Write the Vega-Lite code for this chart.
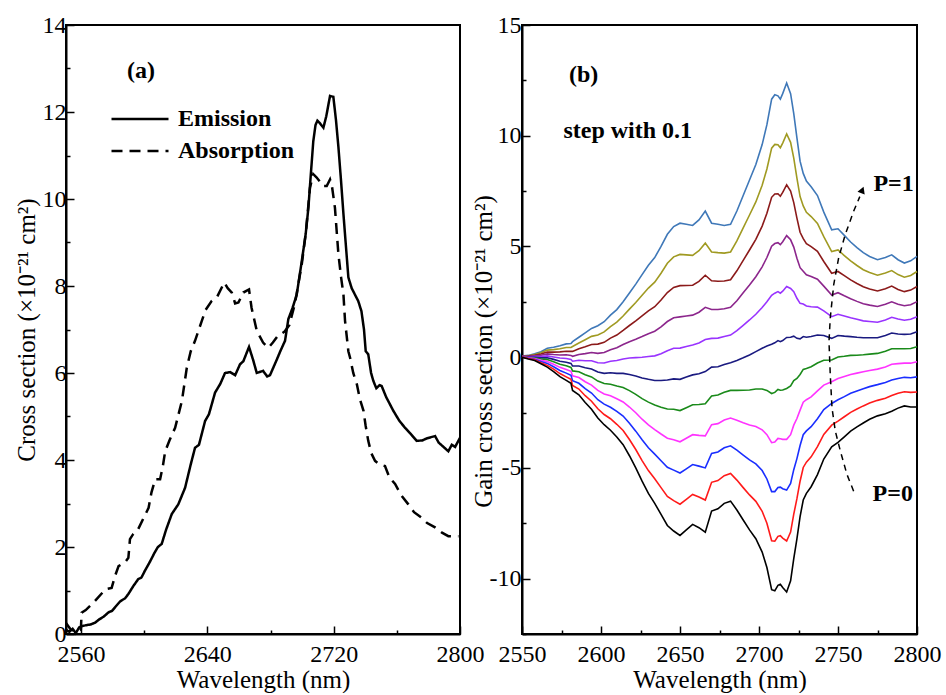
{
"$schema": "https://vega.github.io/schema/vega-lite/v6.json",
"background": "white",
"padding": {"left": 13, "top": 12, "right": 0, "bottom": 0},
"bounds": "flush",
"spacing": 62,
"config": {
  "font": "Liberation Serif",
  "view": {"stroke": "black", "strokeWidth": 2},
  "axis": {"grid": false, "domainColor": "black", "domainWidth": 2, "tickColor": "black", "tickWidth": 1.5,
    "labelFont": "Liberation Serif", "labelFontSize": 24, "labelColor": "black", "labelFlush": false, "labelOverlap": false,
    "titleFont": "Liberation Serif", "titleFontSize": 25, "titleFontWeight": "normal", "titleColor": "black"}
},
"hconcat": [
{
  "width": 394, "height": 609,
  "encoding": {
    "x": {"field": "w", "type": "quantitative", "scale": {"domain": [2550.5, 2800], "nice": false, "zero": false},
      "axis": {"title": "Wavelength (nm)", "values": [2560, 2600, 2640, 2680, 2720, 2760, 2800],
        "labelExpr": "(datum.value - 2560) % 80 === 0 ? datum.value + '' : ''",
        "tickSize": {"condition": {"test": "(datum.value - 2560) % 80 === 0", "value": -8}, "value": -4},
        "labelFont": "Liberation Serif", "titleFont": "Liberation Serif", "labelFontSize": 24, "titleFontSize": 25,
        "labelPadding": 16, "titlePadding": -3}},
    "y": {"field": "v", "type": "quantitative", "scale": {"domain": [0, 14], "nice": false},
      "axis": {"title": "Cross section (×10⁻²¹ cm²)", "values": [0,1,2,3,4,5,6,7,8,9,10,11,12,13,14],
        "labelExpr": "datum.value % 2 === 0 ? datum.value + '' : ''",
        "tickSize": {"condition": {"test": "datum.value % 2 === 0", "value": -8}, "value": -4},
        "labelFont": "Liberation Serif", "titleFont": "Liberation Serif", "labelFontSize": 24, "titleFontSize": 25,
        "labelPadding": 8, "titlePadding": 3}}
  },
  "layer": [
    {
      "data": {"values": [
        {"w":2550.5,"v":0.1,"s":"Emission"},{"w":2552.6,"v":0.05,"s":"Emission"},{"w":2554.7,"v":0.12,"s":"Emission"},{"w":2556.7,"v":0.02,"s":"Emission"},{"w":2558.8,"v":0.15,"s":"Emission"},{"w":2560.4,"v":0.18,"s":"Emission"},{"w":2563.0,"v":0.2,"s":"Emission"},{"w":2566.1,"v":0.22,"s":"Emission"},{"w":2568.9,"v":0.26,"s":"Emission"},{"w":2571.3,"v":0.33,"s":"Emission"},{"w":2574.4,"v":0.4,"s":"Emission"},{"w":2577.5,"v":0.5,"s":"Emission"},{"w":2579.6,"v":0.53,"s":"Emission"},{"w":2581.7,"v":0.62,"s":"Emission"},{"w":2584.8,"v":0.75,"s":"Emission"},{"w":2587.9,"v":0.82,"s":"Emission"},{"w":2590.0,"v":0.92,"s":"Emission"},{"w":2593.1,"v":1.1,"s":"Emission"},{"w":2596.2,"v":1.26,"s":"Emission"},{"w":2598.3,"v":1.3,"s":"Emission"},{"w":2600.4,"v":1.45,"s":"Emission"},{"w":2603.5,"v":1.65,"s":"Emission"},{"w":2606.6,"v":1.87,"s":"Emission"},{"w":2608.7,"v":2.0,"s":"Emission"},{"w":2611.1,"v":2.07,"s":"Emission"},{"w":2613.9,"v":2.4,"s":"Emission"},{"w":2617.5,"v":2.76,"s":"Emission"},{"w":2621.6,"v":2.98,"s":"Emission"},{"w":2625.9,"v":3.36,"s":"Emission"},{"w":2629.5,"v":3.9,"s":"Emission"},{"w":2632.2,"v":4.28,"s":"Emission"},{"w":2634.7,"v":4.35,"s":"Emission"},{"w":2638.6,"v":4.9,"s":"Emission"},{"w":2641.0,"v":5.05,"s":"Emission"},{"w":2644.9,"v":5.55,"s":"Emission"},{"w":2648.2,"v":5.75,"s":"Emission"},{"w":2651.2,"v":6.0,"s":"Emission"},{"w":2654.5,"v":6.02,"s":"Emission"},{"w":2657.6,"v":5.95,"s":"Emission"},{"w":2660.7,"v":6.2,"s":"Emission"},{"w":2662.8,"v":6.27,"s":"Emission"},{"w":2666.4,"v":6.6,"s":"Emission"},{"w":2669.0,"v":6.3,"s":"Emission"},{"w":2671.3,"v":6.0,"s":"Emission"},{"w":2675.3,"v":6.05,"s":"Emission"},{"w":2677.9,"v":5.92,"s":"Emission"},{"w":2679.7,"v":5.95,"s":"Emission"},{"w":2683.9,"v":6.3,"s":"Emission"},{"w":2686.2,"v":6.5,"s":"Emission"},{"w":2689.2,"v":6.74,"s":"Emission"},{"w":2691.3,"v":7.24,"s":"Emission"},{"w":2694.0,"v":7.5,"s":"Emission"},{"w":2696.6,"v":7.8,"s":"Emission"},{"w":2699.8,"v":8.57,"s":"Emission"},{"w":2702.3,"v":9.2,"s":"Emission"},{"w":2704.0,"v":9.8,"s":"Emission"},{"w":2705.4,"v":10.5,"s":"Emission"},{"w":2707.1,"v":11.33,"s":"Emission"},{"w":2708.5,"v":11.7,"s":"Emission"},{"w":2709.7,"v":11.8,"s":"Emission"},{"w":2711.1,"v":11.75,"s":"Emission"},{"w":2713.5,"v":11.64,"s":"Emission"},{"w":2715.3,"v":11.9,"s":"Emission"},{"w":2717.7,"v":12.37,"s":"Emission"},{"w":2719.8,"v":12.35,"s":"Emission"},{"w":2721.5,"v":11.8,"s":"Emission"},{"w":2723.0,"v":11.2,"s":"Emission"},{"w":2724.7,"v":10.4,"s":"Emission"},{"w":2726.2,"v":9.65,"s":"Emission"},{"w":2727.8,"v":8.9,"s":"Emission"},{"w":2729.3,"v":8.2,"s":"Emission"},{"w":2731.4,"v":7.95,"s":"Emission"},{"w":2733.5,"v":7.8,"s":"Emission"},{"w":2735.6,"v":7.65,"s":"Emission"},{"w":2737.6,"v":7.42,"s":"Emission"},{"w":2739.2,"v":7.0,"s":"Emission"},{"w":2740.3,"v":6.5,"s":"Emission"},{"w":2741.9,"v":6.43,"s":"Emission"},{"w":2743.7,"v":6.0,"s":"Emission"},{"w":2745.1,"v":5.82,"s":"Emission"},{"w":2747.0,"v":5.65,"s":"Emission"},{"w":2749.1,"v":5.72,"s":"Emission"},{"w":2750.4,"v":5.7,"s":"Emission"},{"w":2753.2,"v":5.45,"s":"Emission"},{"w":2757.8,"v":5.13,"s":"Emission"},{"w":2761.6,"v":4.9,"s":"Emission"},{"w":2765.2,"v":4.74,"s":"Emission"},{"w":2768.8,"v":4.6,"s":"Emission"},{"w":2772.6,"v":4.44,"s":"Emission"},{"w":2776.1,"v":4.45,"s":"Emission"},{"w":2779.2,"v":4.5,"s":"Emission"},{"w":2784.2,"v":4.55,"s":"Emission"},{"w":2786.5,"v":4.4,"s":"Emission"},{"w":2789.6,"v":4.3,"s":"Emission"},{"w":2792.6,"v":4.2,"s":"Emission"},{"w":2794.8,"v":4.35,"s":"Emission"},{"w":2796.9,"v":4.3,"s":"Emission"},{"w":2800,"v":4.51,"s":"Emission"},
        {"w":2550.5,"v":0.25,"s":"Absorption"},{"w":2553.6,"v":0.1,"s":"Absorption"},{"w":2557.8,"v":0.05,"s":"Absorption"},{"w":2559.9,"v":0.1,"s":"Absorption"},{"w":2560.4,"v":0.49,"s":"Absorption"},{"w":2563.0,"v":0.55,"s":"Absorption"},{"w":2568.9,"v":0.76,"s":"Absorption"},{"w":2575.5,"v":1.03,"s":"Absorption"},{"w":2579.4,"v":1.06,"s":"Absorption"},{"w":2581.7,"v":1.35,"s":"Absorption"},{"w":2583.8,"v":1.56,"s":"Absorption"},{"w":2587.9,"v":1.65,"s":"Absorption"},{"w":2590.0,"v":1.75,"s":"Absorption"},{"w":2591.0,"v":2.18,"s":"Absorption"},{"w":2593.1,"v":2.3,"s":"Absorption"},{"w":2596.2,"v":2.41,"s":"Absorption"},{"w":2599.4,"v":2.65,"s":"Absorption"},{"w":2602.8,"v":2.9,"s":"Absorption"},{"w":2604.6,"v":3.25,"s":"Absorption"},{"w":2607.0,"v":3.56,"s":"Absorption"},{"w":2610.1,"v":3.56,"s":"Absorption"},{"w":2611.8,"v":3.85,"s":"Absorption"},{"w":2613.3,"v":4.2,"s":"Absorption"},{"w":2616.0,"v":4.45,"s":"Absorption"},{"w":2619.6,"v":4.74,"s":"Absorption"},{"w":2623.9,"v":5.36,"s":"Absorption"},{"w":2627.0,"v":6.12,"s":"Absorption"},{"w":2629.5,"v":6.5,"s":"Absorption"},{"w":2632.2,"v":6.74,"s":"Absorption"},{"w":2636.5,"v":7.2,"s":"Absorption"},{"w":2638.9,"v":7.45,"s":"Absorption"},{"w":2642.8,"v":7.66,"s":"Absorption"},{"w":2646.2,"v":7.75,"s":"Absorption"},{"w":2650.7,"v":8.08,"s":"Absorption"},{"w":2652.9,"v":7.95,"s":"Absorption"},{"w":2655.5,"v":7.85,"s":"Absorption"},{"w":2657.6,"v":7.6,"s":"Absorption"},{"w":2659.7,"v":7.62,"s":"Absorption"},{"w":2662.8,"v":7.85,"s":"Absorption"},{"w":2666.4,"v":7.92,"s":"Absorption"},{"w":2668.0,"v":7.5,"s":"Absorption"},{"w":2671.3,"v":6.97,"s":"Absorption"},{"w":2675.3,"v":6.7,"s":"Absorption"},{"w":2678.6,"v":6.58,"s":"Absorption"},{"w":2681.5,"v":6.7,"s":"Absorption"},{"w":2684.6,"v":6.85,"s":"Absorption"},{"w":2688.8,"v":6.95,"s":"Absorption"},{"w":2691.9,"v":7.1,"s":"Absorption"},{"w":2695.5,"v":7.6,"s":"Absorption"},{"w":2699.8,"v":8.5,"s":"Absorption"},{"w":2702.3,"v":9.2,"s":"Absorption"},{"w":2705.0,"v":10.26,"s":"Absorption"},{"w":2707.1,"v":10.57,"s":"Absorption"},{"w":2709.1,"v":10.5,"s":"Absorption"},{"w":2711.3,"v":10.4,"s":"Absorption"},{"w":2713.2,"v":10.3,"s":"Absorption"},{"w":2715.6,"v":10.3,"s":"Absorption"},{"w":2717.7,"v":10.45,"s":"Absorption"},{"w":2718.9,"v":10.3,"s":"Absorption"},{"w":2720.8,"v":9.8,"s":"Absorption"},{"w":2723.0,"v":8.73,"s":"Absorption"},{"w":2724.7,"v":8.2,"s":"Absorption"},{"w":2726.2,"v":7.8,"s":"Absorption"},{"w":2727.2,"v":7.2,"s":"Absorption"},{"w":2729.3,"v":6.5,"s":"Absorption"},{"w":2730.4,"v":6.35,"s":"Absorption"},{"w":2732.4,"v":6.0,"s":"Absorption"},{"w":2734.7,"v":5.74,"s":"Absorption"},{"w":2736.6,"v":5.4,"s":"Absorption"},{"w":2738.9,"v":5.13,"s":"Absorption"},{"w":2740.2,"v":4.8,"s":"Absorption"},{"w":2741.9,"v":4.44,"s":"Absorption"},{"w":2743.9,"v":4.15,"s":"Absorption"},{"w":2746.2,"v":3.98,"s":"Absorption"},{"w":2749.1,"v":3.9,"s":"Absorption"},{"w":2752.5,"v":3.86,"s":"Absorption"},{"w":2755.3,"v":3.6,"s":"Absorption"},{"w":2758.9,"v":3.45,"s":"Absorption"},{"w":2762.6,"v":3.2,"s":"Absorption"},{"w":2767.3,"v":2.98,"s":"Absorption"},{"w":2770.9,"v":2.8,"s":"Absorption"},{"w":2775.8,"v":2.67,"s":"Absorption"},{"w":2779.2,"v":2.55,"s":"Absorption"},{"w":2784.2,"v":2.45,"s":"Absorption"},{"w":2788.6,"v":2.33,"s":"Absorption"},{"w":2792.6,"v":2.25,"s":"Absorption"},{"w":2799.0,"v":2.25,"s":"Absorption"}
      ]},
      "mark": {"type": "line", "strokeWidth": 2.5, "color": "black"},
      "encoding": {
        "strokeDash": {"field": "s", "type": "nominal",
          "scale": {"domain": ["Emission", "Absorption"], "range": [[1, 0], [11, 7]]},
          "legend": {"orient": "none", "legendX": 44, "legendY": 82, "title": null, "padding": 0,
            "symbolType": "stroke", "symbolSize": 3249, "symbolStrokeWidth": 2.5, "symbolStrokeColor": "black",
            "clipHeight": 24, "rowPadding": 8, "labelOffset": 8,
            "labelFont": "Liberation Serif", "labelFontSize": 24, "labelFontWeight": "bold", "labelColor": "black"}}
      }
    },
    {
      "data": {"values": [{"w": 2589.2, "v": 12.94, "t": "(a)"}]},
      "mark": {"type": "text", "align": "left", "baseline": "middle", "font": "Liberation Serif", "fontSize": 24, "fontWeight": "bold", "color": "black"},
      "encoding": {"text": {"field": "t"}}
    }
  ]
},
{
  "width": 395, "height": 609,
  "encoding": {
    "x": {"field": "w", "type": "quantitative", "scale": {"domain": [2550, 2800], "nice": false, "zero": false},
      "axis": {"title": "Wavelength (nm)", "values": [2550, 2575, 2600, 2625, 2650, 2675, 2700, 2725, 2750, 2775, 2800],
        "labelExpr": "datum.value % 50 === 0 ? datum.value + '' : ''",
        "tickSize": {"condition": {"test": "datum.value % 50 === 0", "value": -8}, "value": -4},
        "labelFont": "Liberation Serif", "titleFont": "Liberation Serif", "labelFontSize": 24, "titleFontSize": 25,
        "labelPadding": 16, "titlePadding": -3}},
    "y": {"field": "v", "type": "quantitative", "scale": {"domain": [-12.5, 15], "nice": false, "zero": false},
      "axis": {"title": "Gain cross section (×10⁻²¹ cm²)", "values": [-12.5, -10, -7.5, -5, -2.5, 0, 2.5, 5, 7.5, 10, 12.5, 15],
        "labelExpr": "datum.value % 5 === 0 ? datum.value + '' : ''",
        "tickSize": {"condition": {"test": "datum.value % 5 === 0", "value": -8}, "value": -4},
        "labelFont": "Liberation Serif", "titleFont": "Liberation Serif", "labelFontSize": 24, "titleFontSize": 25,
        "labelPadding": 9, "titlePadding": -7, "titleY": 326}}
  },
  "layer": [
    {
      "data": {"values": [
        {"w":2550,"p0":0,"p1":0.01,"p2":0.01,"p3":0.02,"p4":0.02,"p5":0.03,"p6":0.03,"p7":0.04,"p8":0.04,"p9":0.05,"p10":0.05},
        {"w":2554,"p0":-0.08,"p1":-0.06,"p2":-0.05,"p3":-0.03,"p4":-0.02,"p5":0,"p6":0.02,"p7":0.03,"p8":0.05,"p9":0.06,"p10":0.08},
        {"w":2558,"p0":-0.15,"p1":-0.12,"p2":-0.09,"p3":-0.06,"p4":-0.03,"p5":0,"p6":0.03,"p7":0.06,"p8":0.09,"p9":0.12,"p10":0.15},
        {"w":2562,"p0":-0.3,"p1":-0.25,"p2":-0.19,"p3":-0.14,"p4":-0.08,"p5":-0.03,"p6":0.03,"p7":0.09,"p8":0.14,"p9":0.2,"p10":0.25},
        {"w":2566,"p0":-0.45,"p1":-0.37,"p2":-0.28,"p3":-0.2,"p4":-0.11,"p5":-0.03,"p6":0.06,"p7":0.15,"p8":0.23,"p9":0.32,"p10":0.4},
        {"w":2570,"p0":-0.65,"p1":-0.54,"p2":-0.43,"p3":-0.32,"p4":-0.21,"p5":-0.1,"p6":0.01,"p7":0.12,"p8":0.23,"p9":0.34,"p10":0.45},
        {"w":2574,"p0":-0.88,"p1":-0.74,"p2":-0.6,"p3":-0.46,"p4":-0.32,"p5":-0.18,"p6":-0.04,"p7":0.1,"p8":0.24,"p9":0.38,"p10":0.52},
        {"w":2578,"p0":-1.05,"p1":-0.89,"p2":-0.72,"p3":-0.56,"p4":-0.39,"p5":-0.23,"p6":-0.06,"p7":0.11,"p8":0.27,"p9":0.44,"p10":0.6},
        {"w":2581,"p0":-1.18,"p1":-1.0,"p2":-0.82,"p3":-0.64,"p4":-0.46,"p5":-0.28,"p6":-0.1,"p7":0.08,"p8":0.26,"p9":0.44,"p10":0.62},
        {"w":2582,"p0":-1.5,"p1":-1.28,"p2":-1.06,"p3":-0.84,"p4":-0.62,"p5":-0.4,"p6":-0.18,"p7":0.04,"p8":0.26,"p9":0.48,"p10":0.7},
        {"w":2586,"p0":-1.7,"p1":-1.44,"p2":-1.18,"p3":-0.92,"p4":-0.66,"p5":-0.4,"p6":-0.14,"p7":0.12,"p8":0.38,"p9":0.64,"p10":0.9},
        {"w":2590,"p0":-2.05,"p1":-1.74,"p2":-1.42,"p3":-1.11,"p4":-0.79,"p5":-0.48,"p6":-0.16,"p7":0.16,"p8":0.47,"p9":0.79,"p10":1.1},
        {"w":2594,"p0":-2.35,"p1":-1.99,"p2":-1.62,"p3":-1.26,"p4":-0.89,"p5":-0.53,"p6":-0.16,"p7":0.21,"p8":0.57,"p9":0.94,"p10":1.3},
        {"w":2598,"p0":-2.75,"p1":-2.33,"p2":-1.92,"p3":-1.5,"p4":-1.08,"p5":-0.67,"p6":-0.25,"p7":0.17,"p8":0.59,"p9":1.0,"p10":1.42},
        {"w":2602,"p0":-3.05,"p1":-2.59,"p2":-2.12,"p3":-1.66,"p4":-1.19,"p5":-0.73,"p6":-0.26,"p7":0.21,"p8":0.67,"p9":1.14,"p10":1.6},
        {"w":2606,"p0":-3.3,"p1":-2.78,"p2":-2.26,"p3":-1.74,"p4":-1.22,"p5":-0.7,"p6":-0.18,"p7":0.34,"p8":0.86,"p9":1.38,"p10":1.9},
        {"w":2610,"p0":-3.6,"p1":-3.03,"p2":-2.45,"p3":-1.88,"p4":-1.3,"p5":-0.73,"p6":-0.15,"p7":0.43,"p8":1.0,"p9":1.58,"p10":2.15},
        {"w":2614,"p0":-3.95,"p1":-3.31,"p2":-2.66,"p3":-2.02,"p4":-1.37,"p5":-0.73,"p6":-0.08,"p7":0.57,"p8":1.21,"p9":1.86,"p10":2.5},
        {"w":2618,"p0":-4.45,"p1":-3.72,"p2":-2.98,"p3":-2.25,"p4":-1.51,"p5":-0.78,"p6":-0.04,"p7":0.7,"p8":1.43,"p9":2.17,"p10":2.9},
        {"w":2622,"p0":-5.0,"p1":-4.17,"p2":-3.34,"p3":-2.51,"p4":-1.68,"p5":-0.85,"p6":-0.02,"p7":0.81,"p8":1.64,"p9":2.47,"p10":3.3},
        {"w":2626,"p0":-5.6,"p1":-4.67,"p2":-3.73,"p3":-2.8,"p4":-1.87,"p5":-0.94,"p6":0,"p7":0.93,"p8":1.86,"p9":2.8,"p10":3.73},
        {"w":2630,"p0":-6.15,"p1":-5.12,"p2":-4.09,"p3":-3.06,"p4":-2.03,"p5":-1.0,"p6":0.03,"p7":1.06,"p8":2.09,"p9":3.12,"p10":4.15},
        {"w":2634,"p0":-6.6,"p1":-5.49,"p2":-4.38,"p3":-3.27,"p4":-2.16,"p5":-1.05,"p6":0.06,"p7":1.17,"p8":2.28,"p9":3.39,"p10":4.5},
        {"w":2638,"p0":-7.1,"p1":-5.89,"p2":-4.68,"p3":-3.47,"p4":-2.26,"p5":-1.05,"p6":0.16,"p7":1.37,"p8":2.58,"p9":3.79,"p10":5.0},
        {"w":2642,"p0":-7.6,"p1":-6.29,"p2":-4.97,"p3":-3.66,"p4":-2.34,"p5":-1.03,"p6":0.29,"p7":1.61,"p8":2.92,"p9":4.24,"p10":5.55},
        {"w":2646,"p0":-7.85,"p1":-6.48,"p2":-5.1,"p3":-3.73,"p4":-2.35,"p5":-0.98,"p6":0.4,"p7":1.78,"p8":3.15,"p9":4.53,"p10":5.9},
        {"w":2650,"p0":-8.05,"p1":-6.64,"p2":-5.23,"p3":-3.82,"p4":-2.41,"p5":-1.0,"p6":0.41,"p7":1.82,"p8":3.23,"p9":4.64,"p10":6.05},
        {"w":2654,"p0":-7.8,"p1":-6.42,"p2":-5.04,"p3":-3.66,"p4":-2.28,"p5":-0.9,"p6":0.48,"p7":1.86,"p8":3.24,"p9":4.62,"p10":6.0},
        {"w":2658,"p0":-7.55,"p1":-6.2,"p2":-4.85,"p3":-3.5,"p4":-2.15,"p5":-0.8,"p6":0.55,"p7":1.9,"p8":3.25,"p9":4.6,"p10":5.95},
        {"w":2662,"p0":-7.7,"p1":-6.31,"p2":-4.92,"p3":-3.53,"p4":-2.14,"p5":-0.75,"p6":0.64,"p7":2.03,"p8":3.42,"p9":4.81,"p10":6.2},
        {"w":2666,"p0":-7.9,"p1":-6.45,"p2":-5.0,"p3":-3.55,"p4":-2.1,"p5":-0.65,"p6":0.8,"p7":2.25,"p8":3.7,"p9":5.15,"p10":6.6},
        {"w":2670,"p0":-6.95,"p1":-5.65,"p2":-4.35,"p3":-3.05,"p4":-1.75,"p5":-0.45,"p6":0.85,"p7":2.15,"p8":3.45,"p9":4.75,"p10":6.05},
        {"w":2674,"p0":-6.85,"p1":-5.57,"p2":-4.28,"p3":-3.0,"p4":-1.71,"p5":-0.43,"p6":0.86,"p7":2.15,"p8":3.43,"p9":4.72,"p10":6.0},
        {"w":2678,"p0":-6.6,"p1":-5.35,"p2":-4.09,"p3":-2.84,"p4":-1.58,"p5":-0.33,"p6":0.93,"p7":2.19,"p8":3.44,"p9":4.7,"p10":5.95},
        {"w":2682,"p0":-6.5,"p1":-5.25,"p2":-4.0,"p3":-2.75,"p4":-1.5,"p5":-0.25,"p6":1.0,"p7":2.25,"p8":3.5,"p9":4.75,"p10":6.0},
        {"w":2686,"p0":-6.9,"p1":-5.55,"p2":-4.2,"p3":-2.85,"p4":-1.5,"p5":-0.15,"p6":1.2,"p7":2.55,"p8":3.9,"p9":5.25,"p10":6.6},
        {"w":2690,"p0":-7.35,"p1":-5.89,"p2":-4.42,"p3":-2.96,"p4":-1.49,"p5":-0.03,"p6":1.44,"p7":2.91,"p8":4.37,"p9":5.84,"p10":7.3},
        {"w":2694,"p0":-7.8,"p1":-6.22,"p2":-4.64,"p3":-3.06,"p4":-1.48,"p5":0.1,"p6":1.68,"p7":3.26,"p8":4.84,"p9":6.42,"p10":8.0},
        {"w":2698,"p0":-8.2,"p1":-6.51,"p2":-4.82,"p3":-3.13,"p4":-1.44,"p5":0.25,"p6":1.94,"p7":3.63,"p8":5.32,"p9":7.01,"p10":8.7},
        {"w":2702,"p0":-8.8,"p1":-6.96,"p2":-5.12,"p3":-3.28,"p4":-1.44,"p5":0.4,"p6":2.24,"p7":4.08,"p8":5.92,"p9":7.76,"p10":9.6},
        {"w":2705,"p0":-9.5,"p1":-7.5,"p2":-5.5,"p3":-3.5,"p4":-1.5,"p5":0.5,"p6":2.5,"p7":4.5,"p8":6.5,"p9":8.5,"p10":10.5},
        {"w":2708,"p0":-10.5,"p1":-8.29,"p2":-6.07,"p3":-3.86,"p4":-1.64,"p5":0.58,"p6":2.79,"p7":5.01,"p8":7.22,"p9":9.44,"p10":11.65},
        {"w":2710,"p0":-10.55,"p1":-8.31,"p2":-6.07,"p3":-3.83,"p4":-1.59,"p5":0.65,"p6":2.89,"p7":5.13,"p8":7.37,"p9":9.61,"p10":11.85},
        {"w":2712,"p0":-10.3,"p1":-8.09,"p2":-5.88,"p3":-3.67,"p4":-1.46,"p5":0.75,"p6":2.96,"p7":5.17,"p8":7.38,"p9":9.59,"p10":11.8},
        {"w":2713.5,"p0":-10.25,"p1":-8.06,"p2":-5.87,"p3":-3.68,"p4":-1.49,"p5":0.7,"p6":2.89,"p7":5.08,"p8":7.27,"p9":9.46,"p10":11.65},
        {"w":2715,"p0":-10.4,"p1":-8.17,"p2":-5.94,"p3":-3.71,"p4":-1.48,"p5":0.75,"p6":2.98,"p7":5.21,"p8":7.44,"p9":9.67,"p10":11.9},
        {"w":2717.5,"p0":-10.6,"p1":-8.3,"p2":-6.0,"p3":-3.71,"p4":-1.41,"p5":0.89,"p6":3.19,"p7":5.49,"p8":7.78,"p9":10.08,"p10":12.38},
        {"w":2720,"p0":-10.1,"p1":-7.9,"p2":-5.7,"p3":-3.5,"p4":-1.3,"p5":0.9,"p6":3.1,"p7":5.3,"p8":7.5,"p9":9.7,"p10":11.9},
        {"w":2722,"p0":-9.1,"p1":-7.09,"p2":-5.08,"p3":-3.07,"p4":-1.06,"p5":0.95,"p6":2.96,"p7":4.97,"p8":6.98,"p9":8.99,"p10":11.0},
        {"w":2724,"p0":-8.2,"p1":-6.39,"p2":-4.58,"p3":-2.77,"p4":-0.96,"p5":0.85,"p6":2.66,"p7":4.47,"p8":6.28,"p9":8.09,"p10":9.9},
        {"w":2726,"p0":-7.2,"p1":-5.6,"p2":-3.99,"p3":-2.39,"p4":-0.78,"p5":0.83,"p6":2.43,"p7":4.04,"p8":5.64,"p9":7.25,"p10":8.85},
        {"w":2728,"p0":-6.45,"p1":-4.98,"p2":-3.5,"p3":-2.03,"p4":-0.55,"p5":0.93,"p6":2.4,"p7":3.88,"p8":5.35,"p9":6.83,"p10":8.3},
        {"w":2730,"p0":-6.15,"p1":-4.74,"p2":-3.33,"p3":-1.92,"p4":-0.51,"p5":0.9,"p6":2.31,"p7":3.72,"p8":5.13,"p9":6.54,"p10":7.95},
        {"w":2733,"p0":-5.85,"p1":-4.5,"p2":-3.14,"p3":-1.79,"p4":-0.43,"p5":0.93,"p6":2.28,"p7":3.64,"p8":4.99,"p9":6.35,"p10":7.7},
        {"w":2737,"p0":-5.3,"p1":-4.04,"p2":-2.78,"p3":-1.52,"p4":-0.26,"p5":1.0,"p6":2.26,"p7":3.52,"p8":4.78,"p9":6.04,"p10":7.3},
        {"w":2741,"p0":-4.6,"p1":-3.49,"p2":-2.37,"p3":-1.26,"p4":-0.14,"p5":0.98,"p6":2.09,"p7":3.21,"p8":4.32,"p9":5.44,"p10":6.55},
        {"w":2746,"p0":-4.05,"p1":-3.07,"p2":-2.09,"p3":-1.11,"p4":-0.13,"p5":0.85,"p6":1.83,"p7":2.81,"p8":3.79,"p9":4.77,"p10":5.75},
        {"w":2750,"p0":-3.85,"p1":-2.89,"p2":-1.92,"p3":-0.96,"p4":0.01,"p5":0.98,"p6":1.94,"p7":2.91,"p8":3.87,"p9":4.84,"p10":5.8},
        {"w":2754,"p0":-3.6,"p1":-2.69,"p2":-1.78,"p3":-0.87,"p4":0.04,"p5":0.95,"p6":1.86,"p7":2.77,"p8":3.68,"p9":4.59,"p10":5.5},
        {"w":2758,"p0":-3.34,"p1":-2.49,"p2":-1.63,"p3":-0.78,"p4":0.08,"p5":0.93,"p6":1.78,"p7":2.64,"p8":3.49,"p9":4.35,"p10":5.2},
        {"w":2762,"p0":-3.15,"p1":-2.34,"p2":-1.53,"p3":-0.72,"p4":0.09,"p5":0.9,"p6":1.71,"p7":2.52,"p8":3.33,"p9":4.14,"p10":4.95},
        {"w":2766,"p0":-2.97,"p1":-2.2,"p2":-1.43,"p3":-0.66,"p4":0.11,"p5":0.88,"p6":1.64,"p7":2.41,"p8":3.18,"p9":3.95,"p10":4.72},
        {"w":2770,"p0":-2.8,"p1":-2.07,"p2":-1.33,"p3":-0.6,"p4":0.14,"p5":0.88,"p6":1.61,"p7":2.35,"p8":3.08,"p9":3.82,"p10":4.55},
        {"w":2775,"p0":-2.65,"p1":-1.95,"p2":-1.24,"p3":-0.54,"p4":0.17,"p5":0.88,"p6":1.58,"p7":2.29,"p8":2.99,"p9":3.7,"p10":4.4},
        {"w":2780,"p0":-2.55,"p1":-1.85,"p2":-1.14,"p3":-0.44,"p4":0.27,"p5":0.98,"p6":1.68,"p7":2.39,"p8":3.09,"p9":3.8,"p10":4.5},
        {"w":2784,"p0":-2.44,"p1":-1.73,"p2":-1.03,"p3":-0.32,"p4":0.38,"p5":1.09,"p6":1.8,"p7":2.5,"p8":3.21,"p9":3.91,"p10":4.62},
        {"w":2788,"p0":-2.3,"p1":-1.63,"p2":-0.96,"p3":-0.29,"p4":0.38,"p5":1.05,"p6":1.72,"p7":2.39,"p8":3.06,"p9":3.73,"p10":4.4},
        {"w":2792,"p0":-2.2,"p1":-1.56,"p2":-0.91,"p3":-0.27,"p4":0.38,"p5":1.03,"p6":1.67,"p7":2.32,"p8":2.96,"p9":3.61,"p10":4.25},
        {"w":2796,"p0":-2.25,"p1":-1.59,"p2":-0.93,"p3":-0.27,"p4":0.39,"p5":1.05,"p6":1.71,"p7":2.37,"p8":3.03,"p9":3.69,"p10":4.35},
        {"w":2800,"p0":-2.25,"p1":-1.57,"p2":-0.89,"p3":-0.21,"p4":0.47,"p5":1.15,"p6":1.83,"p7":2.51,"p8":3.19,"p9":3.87,"p10":4.55}
      ]},
      "transform": [{"fold": ["p10","p9","p8","p7","p6","p5","p4","p3","p2","p1","p0"], "as": ["P", "v"]}],
      "mark": {"type": "line", "strokeWidth": 1.6},
      "encoding": {
        "color": {"field": "P", "type": "nominal", "legend": null,
          "scale": {"domain": ["p0","p1","p2","p3","p4","p5","p6","p7","p8","p9","p10"],
            "range": ["#000000","#ff1a1a","#1a2eff","#ff33ff","#1a8a1a","#1a1a80","#9933ff","#8c268c","#8b1a1a","#a09a22","#3f78b8"]}}
      }
    },
    {
      "data": {"values": [
        {"w":2759.9,"v":-6.05,"o":1},{"w":2755.7,"v":-5.3,"o":2},{"w":2751.5,"v":-4.24,"o":3},{"w":2748.3,"v":-3.34,"o":4},{"w":2746.2,"v":-2.29,"o":5},{"w":2745.1,"v":-0.78,"o":6},{"w":2744.3,"v":0.7,"o":7},{"w":2745.1,"v":1.77,"o":8},{"w":2747.3,"v":3.28,"o":9},{"w":2750.4,"v":4.48,"o":10},{"w":2754.6,"v":5.54,"o":11},{"w":2759.9,"v":6.59,"o":12},{"w":2763.8,"v":7.25,"o":13}
      ]},
      "mark": {"type": "line", "strokeWidth": 1.5, "color": "black", "strokeDash": [6, 5]},
      "encoding": {"order": {"field": "o", "type": "quantitative"}}
    },
    {
      "data": {"values": [{"w": 2765.4, "v": 7.55}]},
      "mark": {"type": "point", "shape": "triangle-up", "filled": true, "color": "black", "size": 60, "angle": 22, "opacity": 1},
      "encoding": {}
    },
    {
      "data": {"values": [
        {"w": 2579.7, "v": 12.73, "t": "(b)"},
        {"w": 2576.2, "v": 10.2, "t": "step with 0.1"},
        {"w": 2772.4, "v": 7.81, "t": "P=1"},
        {"w": 2771.9, "v": -6.2, "t": "P=0"}
      ]},
      "mark": {"type": "text", "align": "left", "baseline": "middle", "font": "Liberation Serif", "fontSize": 24, "fontWeight": "bold", "color": "black"},
      "encoding": {"text": {"field": "t"}}
    }
  ]
}
]
}
